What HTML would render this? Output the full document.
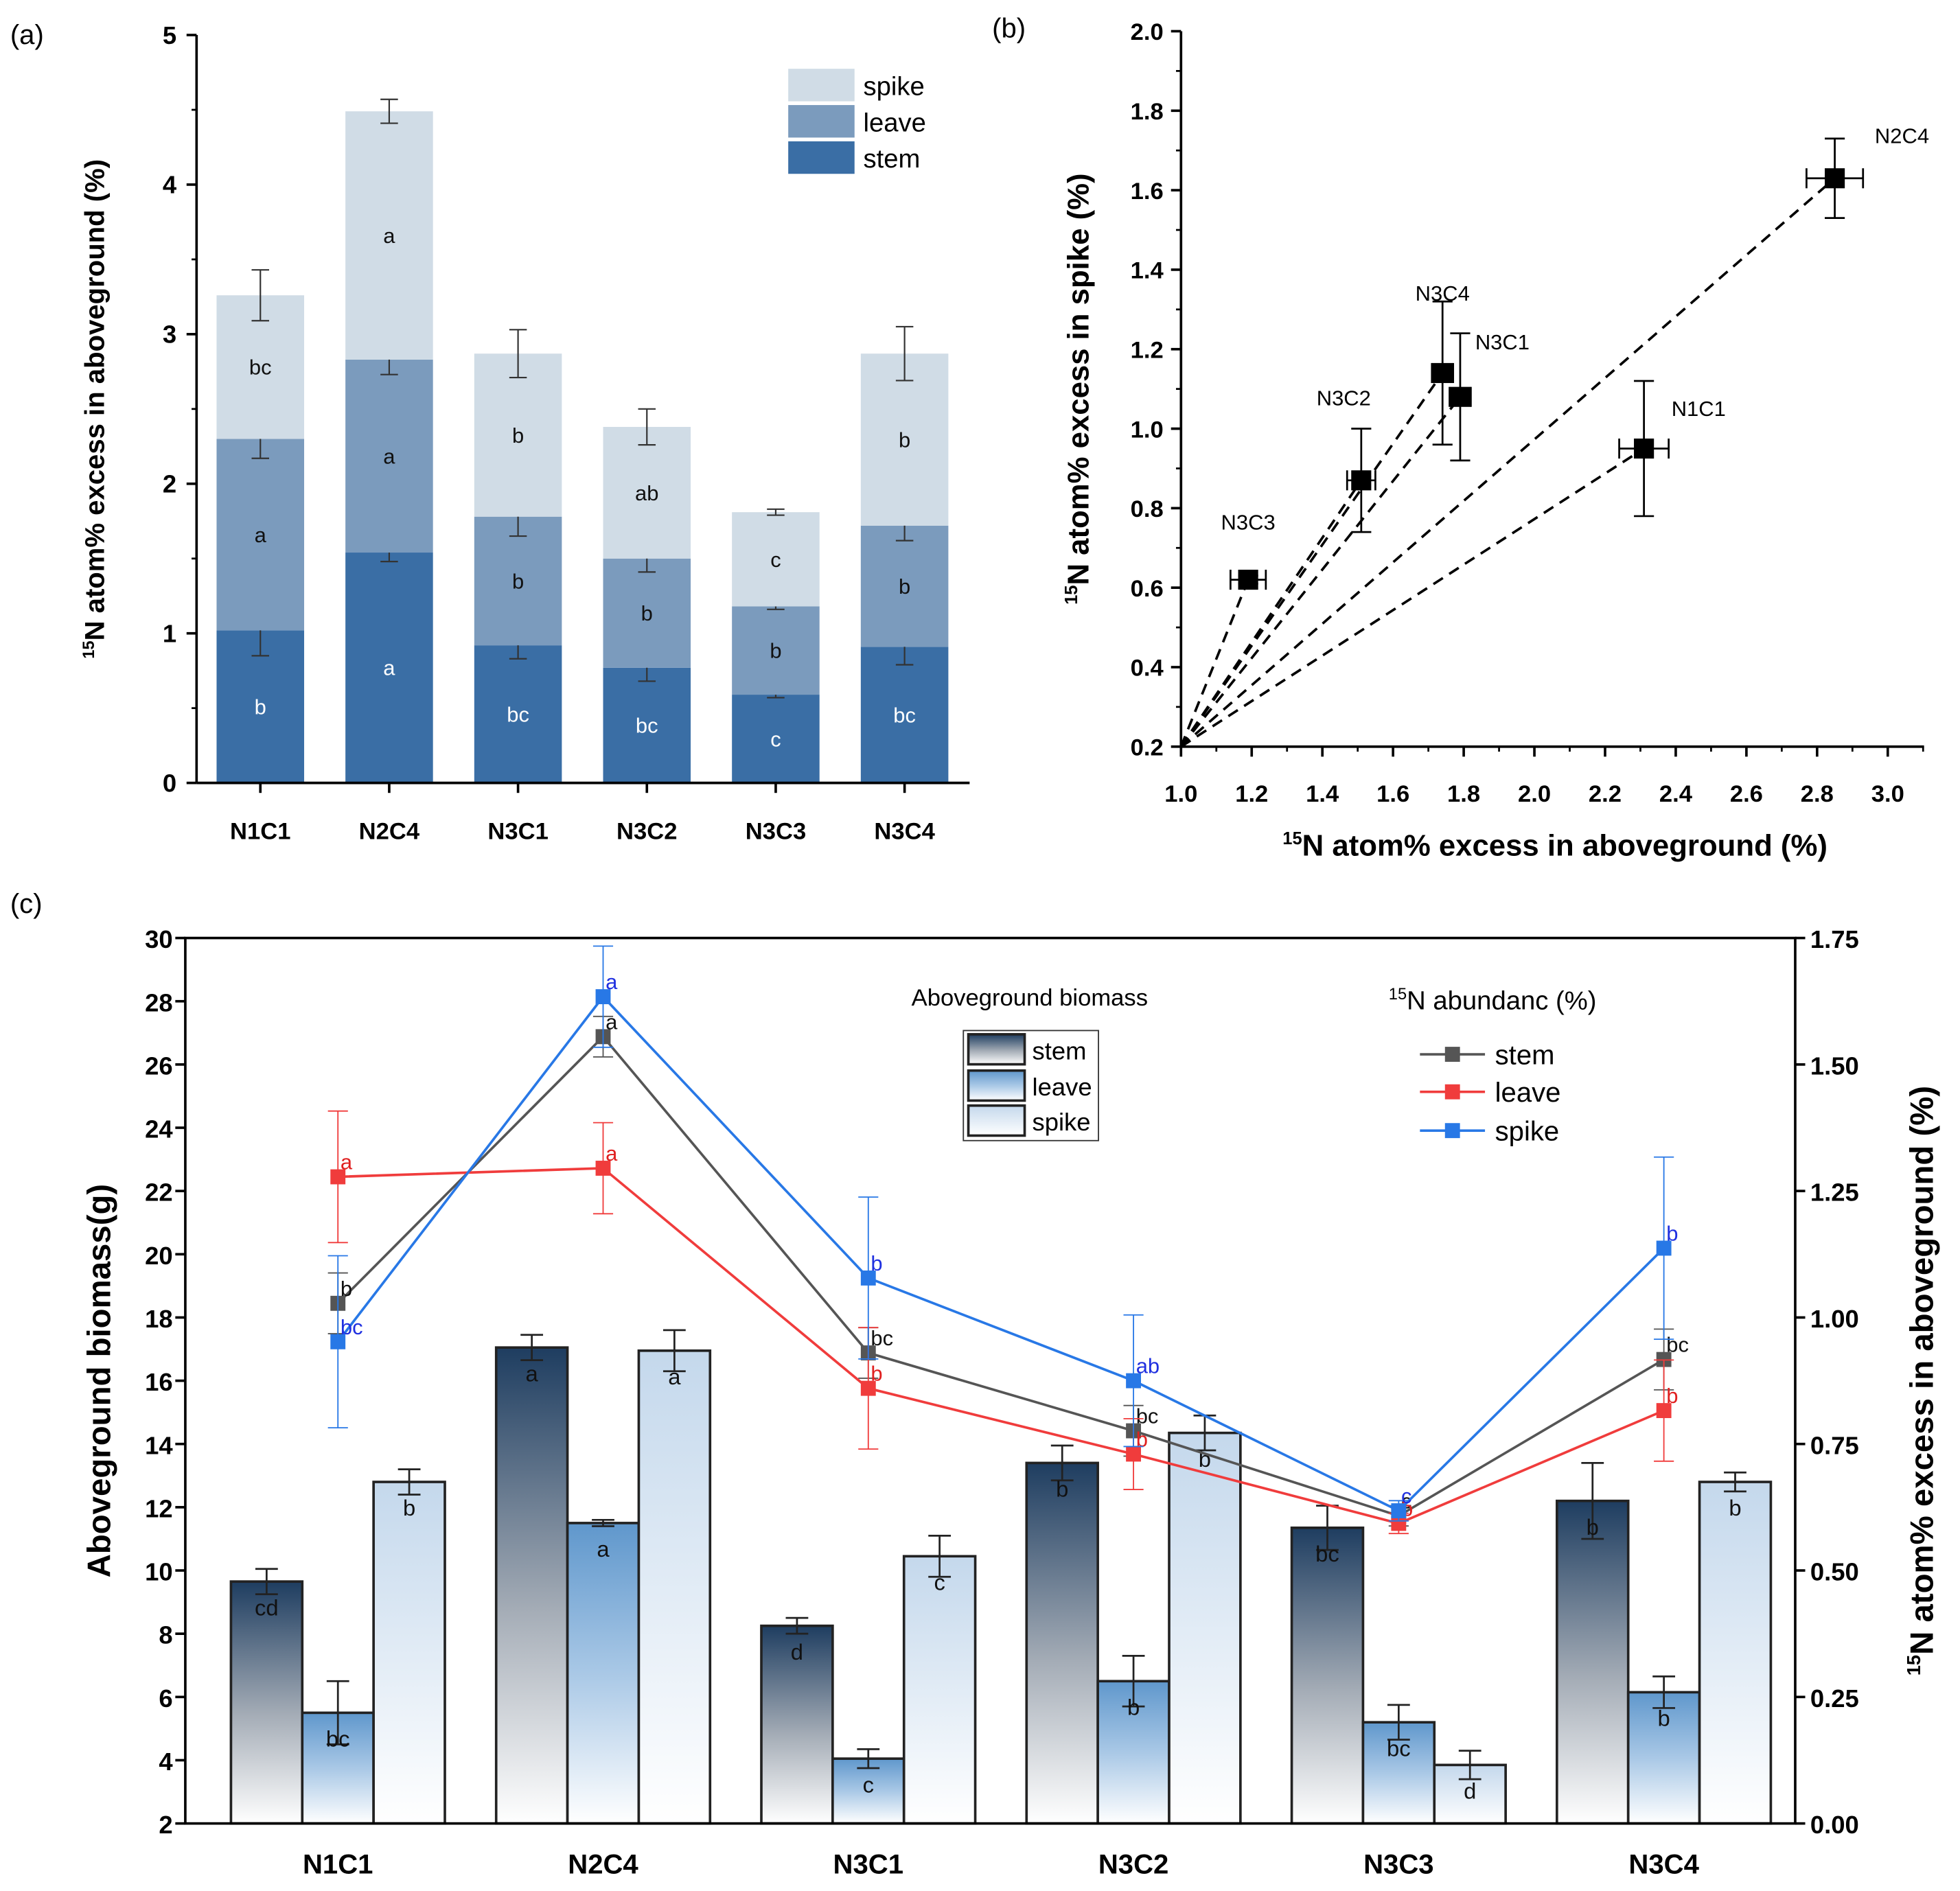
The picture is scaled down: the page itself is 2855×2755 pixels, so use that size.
<!DOCTYPE html>
<html><head><meta charset="utf-8">
<style>
html,body{margin:0;padding:0;background:#fff;}
svg{display:block;font-family:"Liberation Sans",Arial,sans-serif;}
</style></head>
<body>
<svg id="fig" width="2855" height="2755" viewBox="0 0 1566.6 1512" xmlns="http://www.w3.org/2000/svg">
<defs>
<linearGradient id="gStem" x1="0" y1="0" x2="0" y2="1"><stop offset="0" stop-color="#1e3d60"/><stop offset="0.55" stop-color="#a4acb6"/><stop offset="1" stop-color="#ffffff"/></linearGradient>
<linearGradient id="gLeave" x1="0" y1="0" x2="0" y2="1"><stop offset="0" stop-color="#5f97cc"/><stop offset="0.5" stop-color="#a9c8e6"/><stop offset="1" stop-color="#ffffff"/></linearGradient>
<linearGradient id="gSpike" x1="0" y1="0" x2="0" y2="1"><stop offset="0" stop-color="#c4d8ec"/><stop offset="1" stop-color="#ffffff"/></linearGradient>
</defs>
<g id="pa"></g>
<g id="pb"></g>
<g id="pc"></g>
</svg>
<script>
// ---------- Panel (a) data ----------
const aCats = ["N1C1","N2C4","N3C1","N3C2","N3C3","N3C4"];
const aStem = [1.02,1.54,0.92,0.77,0.59,0.91];
const aLeave = [1.28,1.29,0.86,0.73,0.59,0.81];
const aSpike = [0.96,1.66,1.09,0.88,0.63,1.15];
const aStemErr = [0.17,0.06,0.09,0.09,0.02,0.12];
const aLeaveErr = [0.13,0.10,0.13,0.09,0.02,0.10];
const aSpikeErr = [0.17,0.08,0.16,0.12,0.02,0.18];
const aStemLbl = ["b","a","bc","bc","c","bc"];
const aLeaveLbl = ["a","a","b","b","b","b"];
const aSpikeLbl = ["bc","a","b","ab","c","b"];
const aTicks = [0,1,2,3,4,5];
// ---------- Panel (b) data ----------
const bNames = ["N2C4","N3C4","N3C1","N3C2","N3C3","N1C1"];
const bX = [2.85,1.74,1.79,1.51,1.19,2.31];
const bY = [1.63,1.14,1.08,0.87,0.62,0.95];
const bXErr = [0.08,0.03,0.03,0.04,0.05,0.07];
const bYErr = [0.10,0.18,0.16,0.13,0.01,0.17];
const bXTicks = [1.0,1.2,1.4,1.6,1.8,2.0,2.2,2.4,2.6,2.8,3.0];
const bYTicks = [0.2,0.4,0.6,0.8,1.0,1.2,1.4,1.6,1.8,2.0];
// ---------- Panel (c) data ----------
const cCats = ["N1C1","N2C4","N3C1","N3C2","N3C3","N3C4"];
const cStemB = [9.65,17.05,8.25,13.4,11.35,12.2];
const cLeaveB = [5.5,11.5,4.05,6.5,5.2,6.15];
const cSpikeB = [12.8,16.95,10.45,14.35,3.85,12.8];
const cStemBErr = [0.4,0.4,0.25,0.55,0.7,1.2];
const cLeaveBErr = [1.0,0.1,0.3,0.8,0.55,0.5];
const cSpikeBErr = [0.4,0.65,0.65,0.55,0.45,0.3];
const cStemBLbl = ["cd","a","d","b","bc","b"];
const cLeaveBLbl = ["bc","a","c","b","bc","b"];
const cSpikeBLbl = ["b","a","c","b","d","b"];
const cStemN = [1.028,1.555,0.93,0.776,0.608,0.917];
const cLeaveN = [1.278,1.295,0.86,0.73,0.593,0.816];
const cSpikeN = [0.952,1.634,1.078,0.875,0.618,1.137];
const cStemNErr = [0.06,0.04,0.05,0.05,0.02,0.06];
const cLeaveNErr = [0.13,0.09,0.12,0.07,0.02,0.10];
const cSpikeNErr = [0.17,0.10,0.16,0.13,0.02,0.18];
const cStemNLbl = ["b","a","bc","bc","c","bc"];
const cLeaveNLbl = ["a","a","b","b","b","b"];
const cSpikeNLbl = ["bc","a","b","ab","c","b"];
const cLTicks = [2,4,6,8,10,12,14,16,18,20,22,24,26,28,30];
const cRTicks = [0,0.25,0.5,0.75,1.0,1.25,1.5,1.75];

const NS="http://www.w3.org/2000/svg";
function mk(parent,tag,attrs,text){const e=document.createElementNS(NS,tag);for(const k in attrs)e.setAttribute(k,attrs[k]);if(text!==undefined)e.textContent=text;parent.appendChild(e);return e;}
function errV(g,x,y1,y2,w,col,sw){mk(g,"line",{x1:x,x2:x,y1:y1,y2:y2,stroke:col,"stroke-width":sw});mk(g,"line",{x1:x-w,x2:x+w,y1:y1,y2:y1,stroke:col,"stroke-width":sw});mk(g,"line",{x1:x-w,x2:x+w,y1:y2,y2:y2,stroke:col,"stroke-width":sw});}

// ================= Panel A =================
(function(){
const g=document.getElementById("pa");
const X0=157,Y0=626,YT=28,XR=775;
const ya=v=>Y0-(Y0-YT)*v/5;
const cx=i=>208+103*i;
const bw=70;
let t=mk(g,"text",{x:8,y:35,"font-size":22},"(a)");

aCats.forEach((c,i)=>{
  const s=aStem[i], l=s+aLeave[i], p=l+aSpike[i];
  const segs=[[0,s,"#3a6ea5",aStemErr[i],aStemLbl[i],"#fff"],[s,l,"#7b9bbd",aLeaveErr[i],aLeaveLbl[i],"#111"],[l,p,"#d0dce6",aSpikeErr[i],aSpikeLbl[i],"#111"]];
  const names=["stem","leave","spike"];
  segs.forEach((sg,k)=>{
    const r=mk(g,"rect",{x:cx(i)-bw/2,y:ya(sg[1]),width:bw,height:ya(sg[0])-ya(sg[1]),fill:sg[2]});
    
    
    errV(g,cx(i),ya(sg[1]+sg[3]),ya(sg[1]-sg[3]),7,"#333",1.2);
    const lt=mk(g,"text",{x:cx(i),y:(ya(sg[0])+ya(sg[1]))/2+6,"font-size":17,"text-anchor":"middle",fill:sg[5]},sg[4]);
    
  });
  const xt=mk(g,"text",{x:cx(i),y:671,"font-size":19,"font-weight":"bold","text-anchor":"middle"},c);
  
  mk(g,"line",{x1:cx(i),x2:cx(i),y1:Y0,y2:Y0+8,stroke:"#000","stroke-width":2});
});
mk(g,"line",{x1:X0,x2:X0,y1:YT,y2:Y0,stroke:"#000","stroke-width":2});
mk(g,"line",{x1:X0,x2:XR,y1:Y0,y2:Y0,stroke:"#000","stroke-width":2});
aTicks.forEach(v=>{
  mk(g,"line",{x1:X0-8,x2:X0,y1:ya(v),y2:ya(v),stroke:"#000","stroke-width":2});
  if(v<5)mk(g,"line",{x1:X0-4,x2:X0,y1:ya(v+0.5),y2:ya(v+0.5),stroke:"#000","stroke-width":1.5});
  const tt=mk(g,"text",{x:X0-16,y:ya(v)+7,"font-size":20,"font-weight":"bold","text-anchor":"end"},String(v));
  
});
const yt=mk(g,"text",{transform:"translate(83,327) rotate(-90)","font-size":22,"font-weight":"bold","text-anchor":"middle"});
yt.innerHTML='<tspan font-size="13" dy="-8">15</tspan><tspan dy="8">N atom% excess in aboveground (%)</tspan>';

[["spike","#d0dce6",55],["leave","#7b9bbd",84],["stem","#3a6ea5",113]].forEach(l=>{
  const lg=mk(g,"g",{});
  
  mk(lg,"rect",{x:630,y:l[2],width:53,height:26,fill:l[1]});
  mk(lg,"text",{x:690,y:l[2]+21,"font-size":21},l[0]);
});
})();

// ================= Panel B =================
(function(){
const g=document.getElementById("pb");
const X0=944,XR=1538,Y0=597,YT=25;
const xb=v=>944+(v-1)*282.5;
const yb=v=>597-(v-0.2)*317.8;
let t=mk(g,"text",{x:793,y:30,"font-size":22},"(b)");

mk(g,"line",{x1:X0,x2:X0,y1:YT,y2:Y0,stroke:"#000","stroke-width":2});
mk(g,"line",{x1:X0,x2:XR,y1:Y0,y2:Y0,stroke:"#000","stroke-width":2});
bXTicks.forEach(v=>{
  mk(g,"line",{x1:xb(v),x2:xb(v),y1:Y0,y2:Y0+8,stroke:"#000","stroke-width":2});
  mk(g,"line",{x1:xb(v+0.1),x2:xb(v+0.1),y1:Y0,y2:Y0+4,stroke:"#000","stroke-width":1.5});
  const tt=mk(g,"text",{x:xb(v),y:641,"font-size":19,"font-weight":"bold","text-anchor":"middle"},v.toFixed(1));
  
});
bYTicks.forEach(v=>{
  mk(g,"line",{x1:X0-8,x2:X0,y1:yb(v),y2:yb(v),stroke:"#000","stroke-width":2});
  mk(g,"line",{x1:X0-4,x2:X0,y1:yb(v+0.1),y2:yb(v+0.1),stroke:"#000","stroke-width":1.5});
  const tt=mk(g,"text",{x:X0-14,y:yb(v)+7,"font-size":19,"font-weight":"bold","text-anchor":"end"},v.toFixed(1));
  
});
const xt=mk(g,"text",{x:1243,y:684,"font-size":24,"font-weight":"bold","text-anchor":"middle"});
xt.innerHTML='<tspan font-size="14" dy="-9">15</tspan><tspan dy="9">N atom% excess in aboveground (%)</tspan>';

const yt=mk(g,"text",{transform:"translate(870,311) rotate(-90)","font-size":24,"font-weight":"bold","text-anchor":"middle"});
yt.innerHTML='<tspan font-size="14" dy="-9">15</tspan><tspan dy="9">N atom% excess in spike (%)</tspan>';

const lblOff=[[32,-28,"start"],[0,-58,"middle"],[12,-38,"start"],[-14,-60,"middle"],[0,-40,"middle"],[22,-26,"start"]];
bNames.forEach((n,i)=>{
  const px=xb(bX[i]),py=yb(bY[i]);
  const dl=mk(g,"line",{x1:xb(1.0),y1:yb(0.2),x2:px,y2:py,stroke:"#000","stroke-width":2,"stroke-dasharray":"9,6"});
  
  errV(g,px,yb(bY[i]+bYErr[i]),yb(bY[i]-bYErr[i]),8,"#000",1.5);
  mk(g,"line",{x1:xb(bX[i]-bXErr[i]),x2:xb(bX[i]+bXErr[i]),y1:py,y2:py,stroke:"#000","stroke-width":1.5});
  mk(g,"line",{x1:xb(bX[i]-bXErr[i]),x2:xb(bX[i]-bXErr[i]),y1:py-8,y2:py+8,stroke:"#000","stroke-width":1.5});
  mk(g,"line",{x1:xb(bX[i]+bXErr[i]),x2:xb(bX[i]+bXErr[i]),y1:py-8,y2:py+8,stroke:"#000","stroke-width":1.5});
  const pt=mk(g,"rect",{x:px-8,y:py-8,width:16,height:16,fill:"#000"});
  
  const lt=mk(g,"text",{x:px+lblOff[i][0],y:py+lblOff[i][1],"font-size":17,"text-anchor":lblOff[i][2]},n);
  
});
})();

// ================= Panel C =================
(function(){
const g=document.getElementById("pc");
const XL=148,XR=1435,YT=750,YB=1458;
const yl=v=>YB-(v-2)*(YB-YT)/28;
const yr=v=>YB-v*(YB-YT)/1.75;
const cx=i=>270+212*i;
const bw=57;
let t=mk(g,"text",{x:8,y:730,"font-size":22},"(c)");

const series=[[cStemB,cStemBErr,cStemBLbl,"url(#gStem)",-57,"stem"],[cLeaveB,cLeaveBErr,cLeaveBLbl,"url(#gLeave)",0,"leave"],[cSpikeB,cSpikeBErr,cSpikeBLbl,"url(#gSpike)",57,"spike"]];
cCats.forEach((c,i)=>{
  series.forEach(s=>{
    const x=cx(i)+s[4]-bw/2, v=s[0][i];
    const r=mk(g,"rect",{x:x,y:yl(v),width:bw,height:YB-yl(v),fill:s[3],stroke:"#222","stroke-width":2});
    
    
    errV(g,cx(i)+s[4],yl(v+s[1][i]),yl(v-s[1][i]),9,"#222",1.5);
    const lt=mk(g,"text",{x:cx(i)+s[4],y:yl(v)+27,"font-size":18,"text-anchor":"middle",fill:"#111"},s[2][i]);
    
  });
  const xt=mk(g,"text",{x:cx(i),y:1498,"font-size":22,"font-weight":"bold","text-anchor":"middle"},c);
  
});
const lines=[[cStemN,cStemNErr,cStemNLbl,"#555","#111","stem"],[cLeaveN,cLeaveNErr,cLeaveNLbl,"#f03c3c","#e02020","leave"],[cSpikeN,cSpikeNErr,cSpikeNLbl,"#2878e6","#2030e0","spike"]];
lines.forEach(L=>{
  const lg=mk(g,"g",{});
  
  L[0].forEach((v,i)=>errV(lg,cx(i),yr(v+L[1][i]),yr(v-L[1][i]),8,L[3],1));
  mk(lg,"polyline",{points:L[0].map((v,i)=>cx(i)+","+yr(v)).join(" "),fill:"none",stroke:L[3],"stroke-width":2});
  L[0].forEach((v,i)=>{
    const p=mk(lg,"rect",{x:cx(i)-6,y:yr(v)-6,width:12,height:12,fill:L[3]});
    
    mk(lg,"text",{x:cx(i)+2,y:yr(v)-6,"font-size":17,fill:L[4]},L[2][i]);
  });
});
mk(g,"rect",{x:XL,y:YT,width:XR-XL,height:YB-YT,fill:"none",stroke:"#000","stroke-width":2});
cLTicks.forEach(v=>{
  mk(g,"line",{x1:XL-8,x2:XL,y1:yl(v),y2:yl(v),stroke:"#000","stroke-width":2});
  const tt=mk(g,"text",{x:XL-10,y:yl(v)+8,"font-size":20,"font-weight":"bold","text-anchor":"end"},String(v));
  
});
cRTicks.forEach(v=>{
  mk(g,"line",{x1:XR,x2:XR+8,y1:yr(v),y2:yr(v),stroke:"#000","stroke-width":2});
  const tt=mk(g,"text",{x:XR+12,y:yr(v)+8,"font-size":20,"font-weight":"bold"},v.toFixed(2));
  
});
const ylt=mk(g,"text",{transform:"translate(88,1104) rotate(-90)","font-size":26,"font-weight":"bold","text-anchor":"middle"},"Aboveground biomass(g)");

const yrt=mk(g,"text",{transform:"translate(1545,1104) rotate(-90)","font-size":26,"font-weight":"bold","text-anchor":"middle"});
yrt.innerHTML='<tspan font-size="15" dy="-10">15</tspan><tspan dy="10">N atom% excess in aboveground (%)</tspan>';

// legends
const lt1=mk(g,"text",{x:823,y:804,"font-size":19,"text-anchor":"middle"},"Aboveground biomass");

mk(g,"rect",{x:770,y:824,width:108,height:88,fill:"#fff",stroke:"#333","stroke-width":1});
[["stem","url(#gStem)",827],["leave","url(#gLeave)",856],["spike","url(#gSpike)",884]].forEach(l=>{
  const e=mk(g,"g",{});
  
  mk(e,"rect",{x:774,y:l[2],width:45,height:24,fill:l[1],stroke:"#222","stroke-width":2});
  mk(e,"text",{x:825,y:l[2]+20,"font-size":20},l[0]);
});
const lt2=mk(g,"text",{x:1110,y:807,"font-size":21});
lt2.innerHTML='<tspan font-size="13" dy="-8">15</tspan><tspan dy="8">N abundanc (%)</tspan>';

[["stem","#555",843],["leave","#f03c3c",873],["spike","#2878e6",904]].forEach(l=>{
  const e=mk(g,"g",{});
  
  mk(e,"line",{x1:1135,x2:1187,y1:l[2],y2:l[2],stroke:l[1],"stroke-width":2});
  mk(e,"rect",{x:1155,y:l[2]-6,width:12,height:12,fill:l[1]});
  mk(e,"text",{x:1195,y:l[2]+8,"font-size":22},l[0]);
});
})();
</script>
</body></html>
